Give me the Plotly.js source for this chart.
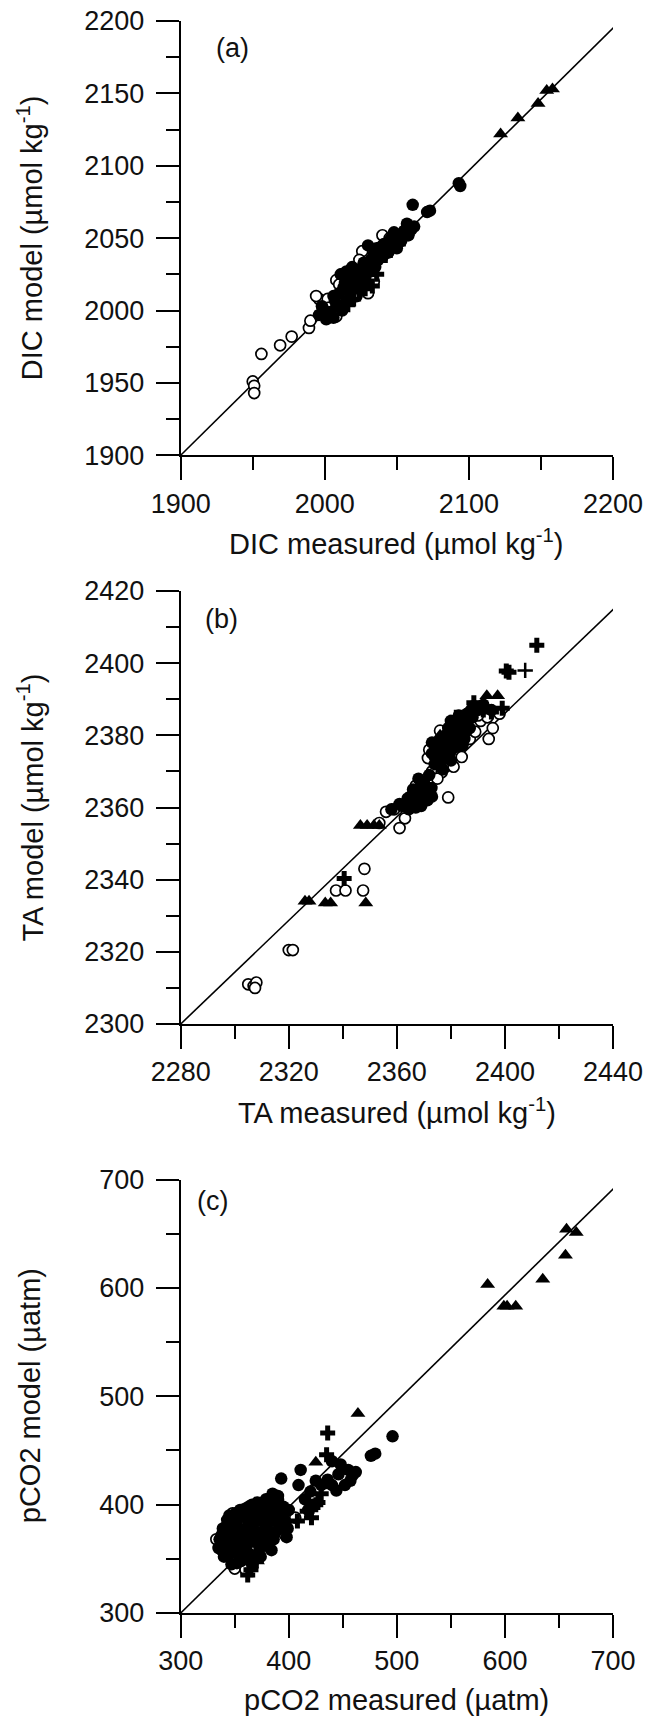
<!DOCTYPE html>
<html>
<head>
<meta charset="utf-8">
<script src="https://cdn.plot.ly/plotly-3.0.1.min.js"></script>
<style>
html,body{margin:0;padding:0;background:#fff;}
#chart{width:649px;height:1716px;}
</style>
</head>
<body>
<div id="chart"></div>
<script>
// ---------- Panel (a): DIC ----------
const dicOpenX   = [1950,1951,1951,1956,1969,1977,1989,1990,1996,2002,2008,2010,2012,2008,2022,2026,2040,2018,2030,2034,2003,2015,2045,2024,1994];
const dicOpenY   = [1951,1948,1943,1970,1976,1982,1988,1993,2008,2008,2021,2018,2025,1996,2010,2041,2052,2028,2012,2020,2002,2010,2050,2035,2010];
const dicFilledX = [1996,2001,2004,2008,2012,2015,2018,2020,2022,2025,2026,2028,2030,2032,2035,2038,2040,2043,2046,2048,2050,2053,2057,2060,2062,2061,2071,2073,2093,2094,2019,2023,2027,2031,2036,2041,2013,2017,1999,2006,
                    1998,2003,2007,2010,2014,2016,2021,2024,2026,2029,2033,2034,2037,2039,2044,2047,2052,2055,2058,2011,2015,2030,2006,2019];
const dicFilledY = [1997,1994,1999,2003,2000,2006,2012,2020,2025,2018,2030,2022,2045,2035,2030,2040,2037,2045,2050,2054,2043,2048,2060,2056,2058,2073,2068,2069,2088,2086,2022,2027,2033,2027,2043,2046,2016,2023,2001,1995,
                    2003,1996,2007,2012,2019,2014,2017,2023,2026,2029,2032,2039,2035,2044,2040,2046,2051,2055,2052,2025,2027,2018,2010,2030];
const dicTriX    = [2122,2134,2148,2154,2158];
const dicTriY    = [2122,2133,2143,2152,2153];
const dicCrossX  = [2000,2010,2016,2028,2033,2036,2042,2051,2057,2020,2024];
const dicCrossY  = [1999,2002,2004,2015,2017,2025,2038,2046,2053,2008,2013];
const dicLineX   = [1900,2205];
const dicLineY   = [1900,2200];

// ---------- Panel (b): TA ----------
const taOpenX   = [2305,2307,2308,2307.5,2320,2321.5,2337.5,2341,2347.5,2348,2353.5,2356,2359,2361,2363,2364,2367,2371.5,2373,2376.6,2378,2381,2376,2379,2372,2387,2389,2391,2393.5,2394,2395.5,2390,2398,2375,2384];
const taOpenY   = [2311,2310.5,2311.5,2310,2320.5,2320.5,2337,2337,2337,2343,2355.7,2358.8,2359.5,2354.3,2357,2361,2366,2373.7,2370,2369.8,2371.3,2371.3,2381.3,2362.8,2376,2379,2381,2384,2385,2379,2382,2385.5,2386,2368,2374];
const taFilledX = [2358,2362,2364.4,2366,2367.5,2369,2370.5,2371.3,2372.8,2368,2365,2373,2369,2375,2376.6,2379.7,2381.2,2382.7,2384.3,2385.8,2378,2380,2383,2386,2388,2374,2377,2381,2390,2392,2395,2373,2383,
                   2366,2368,2370,2372,2374,2375,2377,2379,2380,2382,2384,2386,2387,2389,2376,2378,2383,2370,2367,2364,2361,2373,2380,2385];
const taFilledY = [2359.5,2360.4,2359.5,2361.4,2364.4,2360.4,2365.4,2362,2365.4,2362.5,2363,2363,2366.5,2376.2,2374.3,2375.3,2383.2,2382.2,2377.2,2381.2,2380,2378,2379.5,2383,2385,2372,2370.5,2376.5,2387,2388.5,2387,2375,2385.5,
                   2365,2368,2367,2369,2374,2378,2379,2382,2384,2380,2384,2386,2382,2388,2372,2377,2377,2363.5,2360,2362.5,2361,2378,2373,2379];
const taTriX    = [2326,2327.5,2333.5,2335.5,2348.5,2346.5,2349,2351.5,2353.5,2376,2387.5,2393.3,2397.3];
const taTriY    = [2334,2334,2333.5,2333.5,2333.5,2355,2355,2355,2355,2380,2388,2391,2391];
const taCrossX  = [2340.5,2388.5,2382,2381,2400.5,2401.5,2411.8,2392,2395,2399,2378,2385];
const taCrossY  = [2340.3,2389,2385,2379,2397.8,2397.5,2405,2387,2386.5,2387.5,2376,2382];
const taThinX   = [2407.5];
const taThinY   = [2398];
const taLineX   = [2280,2443];
const taLineY   = [2300,2417];

// ---------- Panel (c): pCO2 ----------
const pcOpenX   = [348,350,396,406,340,343,360,333];
const pcOpenY   = [392,341,373,388,372,362,340,368];
const pcFilledX = [335,338,340,342,344,345,347,348,350,352,353,355,356,357,358,360,361,363,364,365,367,368,370,371,373,374,376,377,379,380,382,384,385,387,389,390,392,393,395,397,398,400,385,390,375,365,355,345,350,360,370,380,388,394,338,352,366,378,384,
                   336,339,341,343,346,349,351,354,357,359,362,362,366,369,372,375,378,381,383,386,391,396,399,346,358,374,363,353,387,379,
                   393,411,409,415,420,425,430,422,435,440,444,448,455,457,459,452,436,446,462,440,418,476,480,496];
const pcFilledY = [360,372,352,380,365,390,345,372,356,385,366,395,348,377,360,388,370,398,352,380,366,392,375,402,360,386,395,370,405,382,392,372,400,385,395,408,378,390,398,384,370,395,410,405,385,372,368,372,380,362,392,398,375,386,358,346,345,362,358,
                   368,378,360,386,355,365,392,376,352,396,380,356,400,385,368,400,378,405,388,368,400,392,378,380,372,352,365,360,408,395,
                   424,432,418,405,412,422,418,400,420,418,413,437,432,422,427,418,423,428,430,440,395,445,447,463];
const pcTriX    = [584,599,602,610,635,656,657,666,464,425,371];
const pcTriY    = [603,583,583,583,608,630,654,651,484,439,348];
const pcCrossX  = [362,365,370,436,435,427,417,421,408,425,430,368];
const pcCrossY  = [335,340,348,466,446,402,394,388,385,400,410,352];
const pcLineX   = [300,706];
const pcLineY   = [300,697];

// ---------- Text ----------
const panelLabels = ['(a)', '(b)', '(c)'];
const xTitles = ['DIC measured (µmol kg<sup>-1</sup>)', 'TA measured (µmol kg<sup>-1</sup>)', 'pCO2 measured (µatm)'];
const yTitles = ['DIC model (µmol kg<sup>-1</sup>)', 'TA model (µmol kg<sup>-1</sup>)', 'pCO2 model (µatm)'];

const FONT = 'Liberation Sans, Arial, sans-serif';
const INK = '#111';

function pts(x, y, xa, ya, marker) {
  return {x: x, y: y, xaxis: xa, yaxis: ya, type: 'scatter', mode: 'markers',
          marker: marker, hoverinfo: 'x+y', cliponaxis: false};
}
const mOpen   = {symbol: 'circle', size: 11, color: '#fff', line: {color: '#000', width: 1.7}};
const mFilled = {symbol: 'circle', size: 12.5, color: '#000', line: {width: 0}};
const mTri    = {symbol: 'triangle-up', size: 13, color: '#000', line: {width: 0}};
const mCross  = {symbol: 'cross', size: 12.5, color: '#000', line: {width: 0}};
const mThin   = {symbol: 'cross-thin-open', size: 11, color: '#000', line: {color: '#000', width: 2.5}};
function line(x, y, xa, ya) {
  return {x: x, y: y, xaxis: xa, yaxis: ya, type: 'scatter', mode: 'lines',
          line: {color: '#000', width: 1.6}, hoverinfo: 'skip'};
}

const data = [
  line(dicLineX, dicLineY, 'x', 'y'),
  pts(dicOpenX, dicOpenY, 'x', 'y', mOpen),
  pts(dicFilledX, dicFilledY, 'x', 'y', mFilled),
  pts(dicCrossX, dicCrossY, 'x', 'y', mCross),
  pts(dicTriX, dicTriY, 'x', 'y', mTri),

  line(taLineX, taLineY, 'x2', 'y2'),
  pts(taOpenX, taOpenY, 'x2', 'y2', mOpen),
  pts(taFilledX, taFilledY, 'x2', 'y2', mFilled),
  pts(taCrossX, taCrossY, 'x2', 'y2', mCross),
  pts(taThinX, taThinY, 'x2', 'y2', mThin),
  pts(taTriX, taTriY, 'x2', 'y2', mTri),

  line(pcLineX, pcLineY, 'x3', 'y3'),
  pts(pcOpenX, pcOpenY, 'x3', 'y3', mOpen),
  pts(pcFilledX, pcFilledY, 'x3', 'y3', mFilled),
  pts(pcCrossX, pcCrossY, 'x3', 'y3', mCross),
  pts(pcTriX, pcTriY, 'x3', 'y3', mTri)
];

const H = 1716, W = 649;
const xL = 180.7, xR = 613;
const xDom = [xL / W, xR / W];
function yDom(top, bottom) { return [1 - bottom / H, 1 - top / H]; }
const panels = [{top: 21, bottom: 455.3}, {top: 591, bottom: 1024}, {top: 1179.5, bottom: 1613}];

function minor(dt, t0) {
  return {ticks: 'outside', ticklen: 13, tickwidth: 2, tickcolor: '#000', dtick: dt, tick0: t0, showgrid: false};
}
function axis(opts) {
  return Object.assign({
    showline: true, linecolor: '#000', linewidth: 2,
    ticks: 'outside', ticklen: 23, tickwidth: 2, tickcolor: '#000',
    showgrid: false, zeroline: false, fixedrange: true,
    tickfont: {family: FONT, size: 27, color: INK}
  }, opts);
}

const annotations = [];
const labelPos = [{x: 214, y: 48}, {x: 203, y: 619}, {x: 195, y: 1201}];
panels.forEach(function (p, i) {
  annotations.push({text: panelLabels[i], xref: 'paper', yref: 'paper',
    x: labelPos[i].x / W, y: 1 - labelPos[i].y / H, xanchor: 'left', yanchor: 'middle',
    showarrow: false, font: {family: FONT, size: 27, color: INK}});
  annotations.push({text: xTitles[i], xref: 'paper', yref: 'paper',
    x: (xL + xR) / 2 / W, y: 1 - (p.bottom + 87) / H, xanchor: 'center', yanchor: 'middle',
    showarrow: false, font: {family: FONT, size: 29, color: INK}});
  annotations.push({text: yTitles[i], xref: 'paper', yref: 'paper', textangle: -90,
    x: 30 / W, y: 1 - (p.top + p.bottom) / 2 / H, xanchor: 'center', yanchor: 'middle',
    showarrow: false, font: {family: FONT, size: 29, color: INK}});
});

const layout = {
  width: W, height: H,
  margin: {l: 0, r: 0, t: 0, b: 0},
  paper_bgcolor: '#fff', plot_bgcolor: '#fff',
  showlegend: false,
  font: {family: FONT, color: INK},
  xaxis: axis({domain: xDom, anchor: 'y', range: [1900, 2200], tick0: 1900, dtick: 100, minor: minor(50, 1900)}),
  yaxis: axis({domain: yDom(panels[0].top, panels[0].bottom), anchor: 'x', range: [1900, 2200], tick0: 1900, dtick: 50, minor: minor(25, 1900), ticklabelstandoff: 6}),
  xaxis2: axis({domain: xDom, anchor: 'y2', range: [2280, 2440], tick0: 2280, dtick: 40, minor: minor(20, 2280)}),
  yaxis2: axis({domain: yDom(panels[1].top, panels[1].bottom), anchor: 'x2', range: [2300, 2420], tick0: 2300, dtick: 20, minor: minor(10, 2300), ticklabelstandoff: 6}),
  xaxis3: axis({domain: xDom, anchor: 'y3', range: [300, 700], tick0: 300, dtick: 100, minor: minor(50, 300)}),
  yaxis3: axis({domain: yDom(panels[2].top, panels[2].bottom), anchor: 'x3', range: [300, 700], tick0: 300, dtick: 100, minor: minor(50, 300), ticklabelstandoff: 6}),
  annotations: annotations
};

Plotly.newPlot('chart', data, layout, {staticPlot: true, displayModeBar: false});
</script>
</body>
</html>
